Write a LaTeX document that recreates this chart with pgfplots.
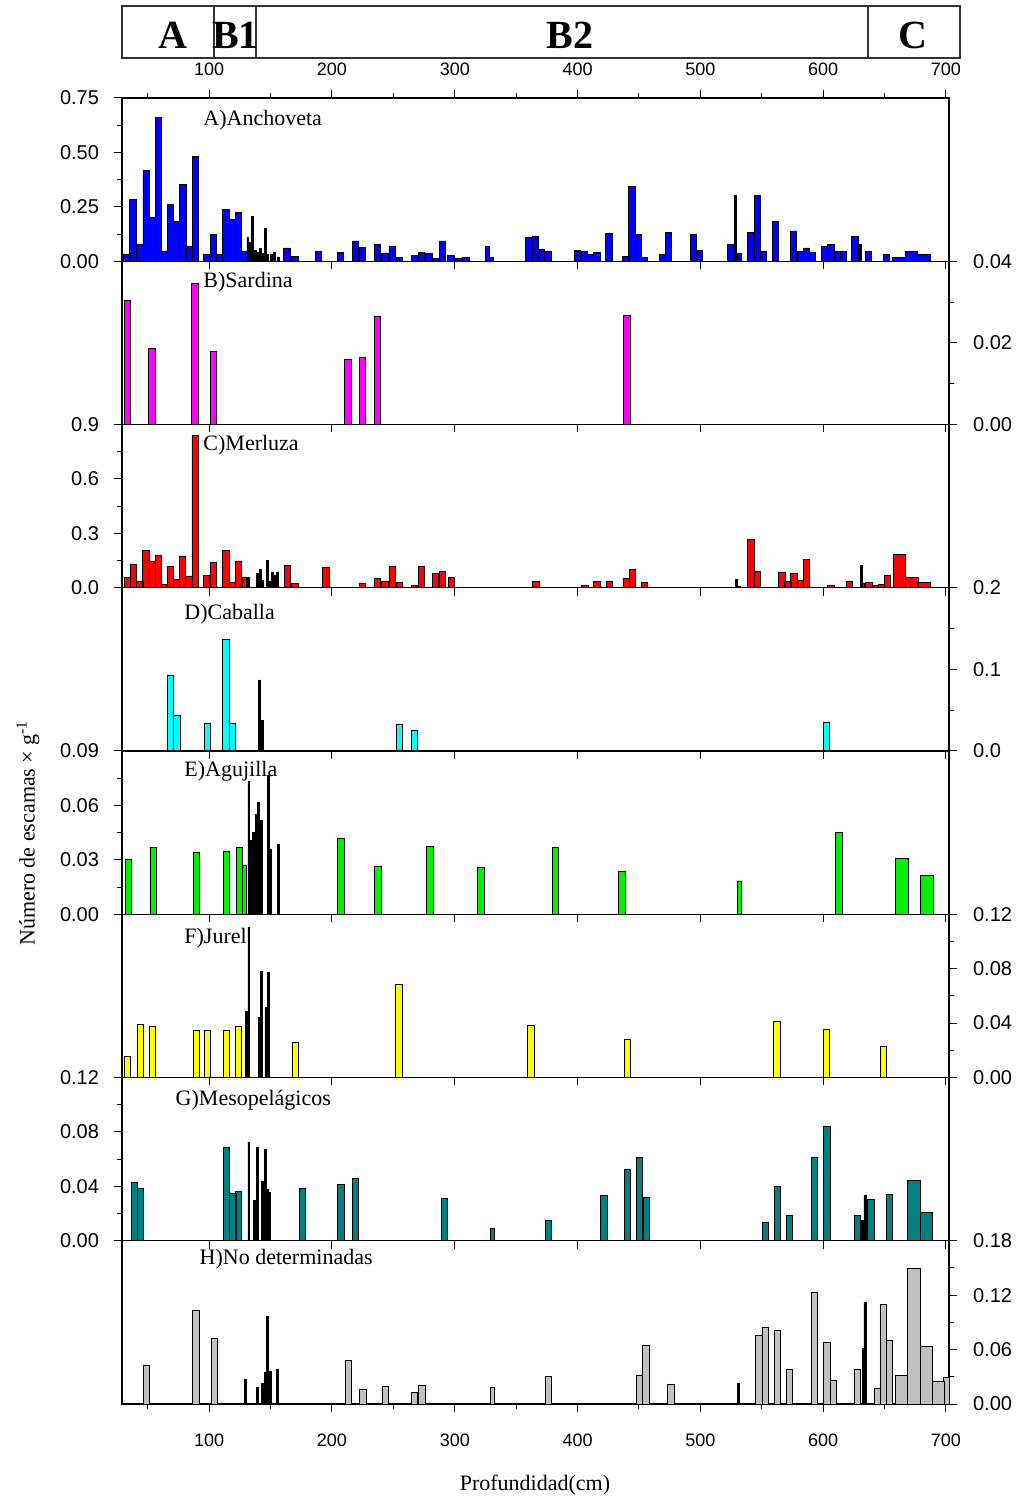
\documentclass[border=0pt]{standalone}
\usepackage{fontspec}
\setmainfont{Liberation Serif}
\newfontfamily\sansfont{Liberation Sans}
\usepackage{pgfplots}
\pgfplotsset{compat=1.18}
\definecolor{cBlue}{RGB}{0,0,255}
\definecolor{cMag}{RGB}{255,0,255}
\definecolor{cRed}{RGB}{255,0,0}
\definecolor{cCyan}{RGB}{0,255,255}
\definecolor{cGreen}{RGB}{0,240,0}
\definecolor{cYellow}{RGB}{255,255,0}
\definecolor{cTeal}{RGB}{0,128,128}
\definecolor{cGrey}{RGB}{192,192,192}
\tikzset{ttl/.style={font=\fontsize{11}{13}\selectfont, anchor=west, inner sep=0pt}}
\pgfplotsset{
  panel/.style={scale only axis, width=413.5pt, height=81.625pt,
    xmin=29, xmax=702.5, ymin=0, anchor=south west,
    scaled y ticks=false, scaled x ticks=false,
    tick align=outside, xtick={100,200,...,700}, xtick pos=lower,
    major tick length=4pt, minor tick length=2.5pt,
    tick style={black, line width=0.5pt},
    axis line style={line width=0.6pt},
    yticklabel style={font=\sansfont\fontsize{10}{12}\selectfont},
    xticklabel style={font=\sansfont\fontsize{9}{11}\selectfont}},
  leftlab/.style={ytick pos=left, yticklabel pos=left, yticklabel style={xshift=-4pt}},
  rightlab/.style={ytick pos=right, yticklabel pos=right, yticklabel style={xshift=4.5pt}},
  nb/.style={ybar, bar shift=0pt, bar width=5.2, draw=black, line width=0.45pt},
  nn/.style={ybar, bar shift=0pt, bar width=3, draw=black, line width=0.45pt},
  nw/.style={ybar, bar shift=0pt, bar width=10, draw=black, line width=0.45pt},
  nk/.style={ybar, bar shift=0pt, bar width=1.5, draw=black, fill=black, line width=0.3pt},
}
\begin{document}
\begin{tikzpicture}
\useasboundingbox (0,0) rectangle (509pt,750pt);
% ---------- zone band ----------
\begin{axis}[at={(61pt,721pt)}, anchor=south west, scale only axis, width=419pt, height=26pt,
  xmin=29.8, xmax=712.2, ymin=0, ymax=1, xtick=\empty, ytick=\empty,
  axis line style={line width=0.6pt, black!80}]
\addplot[draw=none] coordinates {(100,0.5)};
\draw[line width=0.6pt, black!80] (axis cs:104.7,0) -- (axis cs:104.7,1);
\draw[line width=0.6pt, black!80] (axis cs:138.9,0) -- (axis cs:138.9,1);
\draw[line width=0.6pt, black!80] (axis cs:637.3,0) -- (axis cs:637.3,1);
\node[font=\bfseries\fontsize{20}{22}\selectfont, anchor=base] at (axis cs:71.3,0.19) {A};
\node[font=\bfseries\fontsize{20}{22}\selectfont, anchor=base] at (axis cs:122.3,0.19) {B1};
\node[font=\bfseries\fontsize{20}{22}\selectfont, anchor=base] at (axis cs:394.6,0.19) {B2};
\node[font=\bfseries\fontsize{20}{22}\selectfont, anchor=base] at (axis cs:673.9,0.19) {C};
\end{axis}
% ---------- top ticks of panel A ----------
\begin{axis}[panel, at={(61pt,619.375pt)}, ymax=1, hide y axis, xtick pos=upper, xticklabel pos=upper,
  xticklabels={100,200,300,400,500,600,700}, minor xtick={50,150,...,650},
  xticklabel style={yshift=3.5pt}]
\addplot[draw=none] coordinates {(100,0.5)};
\end{axis}
% ---------- A ----------
\begin{axis}[panel, leftlab, at={(61pt,619.375pt)}, ymax=0.75, xticklabel=\empty,
  ytick={0,0.25,0.5,0.75}, yticklabels={0.00,0.25,0.50,0.75}, minor ytick={0.125,0.375,0.625}]
\addplot[nb, fill=cBlue] coordinates {(33,0.029) (38,0.283) (43.5,0.077) (48.7,0.418) (53.8,0.203) (58.8,0.659) (63.7,0.047) (68.5,0.259) (73.5,0.182) (78.5,0.351) (83.7,0.067) (88.8,0.481)
(98,0.033) (103.5,0.125) (108.6,0.033) (113.7,0.240) (118.7,0.194) (123.7,0.222) (128.5,0.045)
(163.4,0.061) (170,0.024) (189,0.047) (207,0.041) (219,0.093) (225,0.065) (237,0.079) (243,0.038) (249,0.07) (255,0.016) (267,0.025) (273,0.041) (279,0.036) (285,0.014) (290,0.093) (297,0.028) (303,0.013) (309,0.016)
(360.5,0.111) (365.7,0.116) (370.8,0.054) (376,0.045) (400,0.048) (405.5,0.047) (410.7,0.03) (415.7,0.039) (425.6,0.128) (439.3,0.024) (444.3,0.344) (449.6,0.123) (454.6,0.016) (469,0.033) (474,0.134) (494.4,0.125) (499.5,0.05) (524.4,0.076) (541.2,0.134) (546.3,0.301) (551.4,0.046) (561.2,0.182) (576,0.139) (581.3,0.045) (586.3,0.061) (591.4,0.041) (601,0.069) (606.4,0.079) (611.5,0.047) (616.5,0.046) (626,0.113) (636.7,0.047) (651.7,0.033)};
\addplot[nn, fill=cBlue] coordinates {(326.5,0.07) (329.7,0.018) (531.7,0.038)};
\addplot[nw, fill=cBlue] coordinates {(661.8,0.016) (671.8,0.046) (682,0.032)};
\addplot[nk] coordinates {(131.5,0.11) (133.4,0.087) (135,0.205) (137.8,0.05) (139.7,0.04) (141.8,0.06) (143.8,0.035) (145.6,0.153) (147.8,0.03) (150.5,0.03) (153.2,0.04) (156,0.02) (528.7,0.301) (630.5,0.076)};
\node[ttl] at (rel axis cs:0.098,0.865) {A)Anchoveta};
\end{axis}
% ---------- B ----------
\begin{axis}[panel, rightlab, at={(61pt,537.75pt)}, ymax=0.04, xticklabel=\empty,
  ytick={0,0.02,0.04}, yticklabels={0.00,0.02,0.04}, minor ytick={0.01,0.03}]
\addplot[nb, fill=cMag] coordinates {(33.3,0.0304) (53.5,0.0187) (88.5,0.0345) (103.5,0.0179) (212.9,0.0159) (225,0.0164) (237.1,0.0264) (440.2,0.0268)};
\node[ttl] at (rel axis cs:0.098,0.87) {B)Sardina};
\end{axis}
% ---------- C ----------
\begin{axis}[panel, leftlab, at={(61pt,456.125pt)}, ymax=0.9, xticklabel=\empty,
  ytick={0,0.3,0.6,0.9}, yticklabels={0.0,0.3,0.6,0.9}, minor ytick={0.15,0.45,0.75}]
\addplot[nb, fill=cRed] coordinates {(33.2,0.059) (38.2,0.129) (43.5,0.037) (48.6,0.206) (53.6,0.147) (58.6,0.179) (63.5,0.018) (68.5,0.116) (73.5,0.044) (78.4,0.175) (83.5,0.065) (88.6,0.841)
(98,0.068) (103.4,0.14) (113.7,0.206) (118.7,0.031) (123.7,0.146) (130,0.055)
(163.7,0.124) (170,0.022) (195,0.114) (225,0.026) (237,0.052) (243,0.033) (249,0.116) (255,0.031) (267,0.011) (273,0.12) (284.5,0.08) (290,0.09) (297.3,0.059)
(366,0.035) (406,0.013) (415.8,0.037) (425.8,0.033) (439.6,0.052) (444.5,0.101) (454.5,0.029) (541.2,0.267) (546.6,0.092) (566.3,0.086) (571.2,0.037) (576.1,0.077) (581.3,0.042) (586.3,0.157) (606.4,0.011) (621.5,0.033) (637.3,0.031) (642.4,0.015) (647.4,0.018) (652.4,0.068)};
\addplot[nn, fill=cRed] coordinates {(632.5,0.022)};
\addplot[nw, fill=cRed] coordinates {(662.1,0.184) (672.3,0.059) (682.2,0.031)};
\addplot[nk] coordinates {(131.3,0.055) (139.5,0.077) (141.4,0.101) (143,0.04) (147.6,0.151) (149.5,0.035) (151.7,0.083) (153.6,0.07) (155.8,0.083) (529.2,0.046) (531.5,0.008) (630.8,0.124)};
\node[ttl] at (rel axis cs:0.098,0.87) {C)Merluza};
\end{axis}
% ---------- D ----------
\begin{axis}[panel, rightlab, at={(61pt,374.5pt)}, ymax=0.2, xticklabel=\empty,
  ytick={0,0.1,0.2}, yticklabels={0.0,0.1,0.2}, minor ytick={0.05,0.15}]
\addplot[nb, fill=cCyan] coordinates {(68.7,0.0924) (73.7,0.044) (98.7,0.034) (113.7,0.137) (118.9,0.034) (254.8,0.033) (267,0.025) (602.7,0.035)};
\addplot[nk] coordinates {(140.8,0.087) (143.6,0.037)};
\node[ttl] at (rel axis cs:0.075,0.84) {D)Caballa};
\end{axis}
% ---------- E ----------
\begin{axis}[panel, leftlab, at={(61pt,292.875pt)}, ymax=0.09, xticklabel=\empty,
  ytick={0,0.03,0.06,0.09}, yticklabels={0.00,0.03,0.06,0.09}, minor ytick={0.015,0.045,0.075}]
\addplot[nb, fill=cGreen] coordinates {(34.1,0.030) (54.4,0.037) (89.6,0.034) (114.2,0.0345) (124.5,0.0368) (207.3,0.042) (237.3,0.0265) (279.8,0.0375) (321.3,0.026) (382,0.037) (436.2,0.0237) (612.8,0.045)};
\addplot[nn, fill=cGreen] coordinates {(128.9,0.027) (531.7,0.018)};
\addplot[nw, fill=cGreen, bar width=11] coordinates {(664.3,0.031) (684.6,0.0215)};
\addplot[nk] coordinates {(132.2,0.0733) (134,0.0405) (135.9,0.045) (138.1,0.0549) (140,0.0617) (142.2,0.0517) (148.4,0.0764) (149.5,0.036) (156.6,0.0383)};
\node[ttl] at (rel axis cs:0.075,0.877) {E)Agujilla};
\end{axis}
% ---------- F ----------
\begin{axis}[panel, rightlab, at={(61pt,211.25pt)}, ymax=0.12, xticklabel=\empty,
  ytick={0,0.04,0.08,0.12}, yticklabels={0.00,0.04,0.08,0.12}, minor ytick={0.02,0.06,0.1}]
\addplot[nb, fill=cYellow] coordinates {(33.6,0.0152) (43.8,0.039) (53.8,0.0373) (89.6,0.0344) (98.7,0.0348) (114.2,0.0344) (124,0.0373) (170.3,0.0258) (254.6,0.0685) (362,0.038) (440.6,0.028) (562.3,0.041) (602.8,0.035) (649.2,0.023)};
\addplot[nk] coordinates {(130.5,0.0484) (132.2,0.1105) (140.8,0.044) (142.2,0.078) (146.2,0.0515) (148.4,0.077)};
\node[ttl] at (rel axis cs:0.075,0.855) {F)Jurel};
\end{axis}
% ---------- G ----------
\begin{axis}[panel, leftlab, at={(61pt,129.625pt)}, ymax=0.12, xticklabel=\empty,
  ytick={0,0.04,0.08,0.12}, yticklabels={0.00,0.04,0.08,0.12}, minor ytick={0.02,0.06,0.1}]
\addplot[nb, fill=cTeal] coordinates {(39,0.0429) (44,0.0385) (114.2,0.0684) (119.2,0.0347) (124,0.0364) (176.2,0.0383) (207.3,0.0412) (219,0.0456) (291.6,0.0308) (376.3,0.015) (421.5,0.0335) (440.7,0.0526) (450.6,0.061) (456,0.0315) (553,0.0138) (562.9,0.0398) (572.8,0.0189) (593,0.0609) (603.1,0.0841) (628,0.0187) (638.9,0.0303) (654.2,0.034)};
\addplot[nn, fill=cTeal] coordinates {(330.7,0.009)};
\addplot[nw, fill=cTeal] coordinates {(674,0.0441) (684.2,0.0206)};
\addplot[nk] coordinates {(132.2,0.0727) (136.7,0.0296) (138.9,0.069) (143,0.044) (145.7,0.0674) (147.6,0.0376) (149,0.0357) (631.6,0.015) (634,0.0332)};
\node[ttl] at (rel axis cs:0.0645,0.863) {G)Mesopelágicos};
\end{axis}
% ---------- H ----------
\begin{axis}[panel, rightlab, at={(61pt,48pt)}, ymax=0.18,
  xticklabels={100,200,300,400,500,600,700}, minor xtick={50,150,...,650},
  xticklabel style={yshift=-7.5pt},
  ytick={0,0.06,0.12,0.18}, yticklabels={0.00,0.06,0.12,0.18}, minor ytick={0.03,0.09,0.15}]
\addplot[nb, fill=cGrey] coordinates {(49.1,0.042) (89.3,0.103) (104.2,0.0718) (213.4,0.0478) (225.3,0.0162) (243.6,0.0191) (267.3,0.0129) (273.4,0.0202) (376.5,0.0302) (450.5,0.031) (455.7,0.0644) (476.1,0.0221) (547.7,0.0751) (552.9,0.0847) (562.9,0.081) (572.8,0.0386) (593,0.1233) (603.1,0.0681) (608.2,0.0265) (628,0.0383) (644,0.0173) (648.9,0.110) (654.2,0.0696) (700.8,0.0295)};
\addplot[nn, fill=cGrey] coordinates {(330.7,0.0184)};
\addplot[nw, fill=cGrey] coordinates {(664,0.031) (674,0.150) (684.2,0.0633) (694,0.0246)};
\addplot[nk] coordinates {(129.2,0.0276) (138.9,0.018) (143,0.0228) (145.5,0.0346) (147.6,0.0972) (149.5,0.0364) (155.8,0.0386) (530.9,0.0228) (632.4,0.0615) (634,0.1119)};
\node[ttl] at (rel axis cs:0.0935,0.888) {H)No determinadas};
\end{axis}
% ---------- axis titles ----------
\node[rotate=90, font=\fontsize{11}{13}\selectfont] at (14pt,333.5pt) {Número de escamas × g\textsuperscript{-1}};
\node[font=\fontsize{11}{13}\selectfont] at (267.5pt,7.5pt) {Profundidad(cm)};
\end{tikzpicture}
\end{document}
